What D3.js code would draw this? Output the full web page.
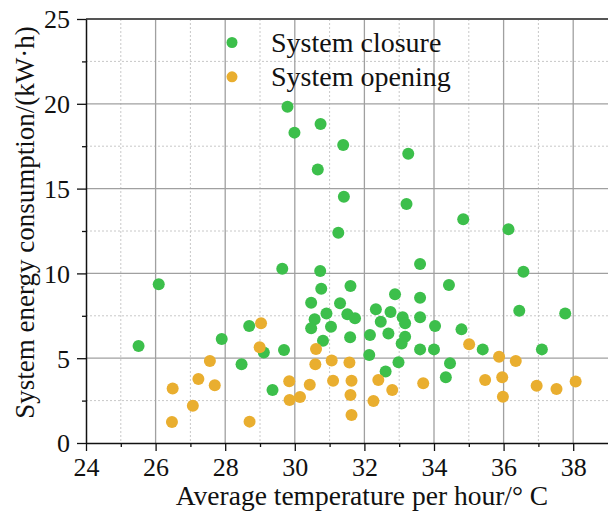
<!DOCTYPE html>
<meta charset="utf-8">
<title>System energy consumption vs temperature</title>
<style>
  body { margin: 0; background: white; }
  svg text { font-family: "Liberation Serif", "Times New Roman", serif; }
  .grid-major line { stroke: #a0a0a0; stroke-width: 1.3; }
  .grid-minor line { stroke: #c8c8c8; stroke-width: 1; stroke-dasharray: 2,2; }
</style>
<body>
<div id="my_dataviz"></div>
<script src="https://d3js.org/d3.v7.min.js"></script>
<script>

// data
var closureTemp = [25.51, 26.09, 27.90, 28.69, 28.47, 29.11, 29.64, 29.69, 29.36, 30.73,
  30.76, 30.47, 30.57, 30.47, 30.91, 31.04, 30.81, 31.25, 31.30, 29.79,
  29.99, 30.74, 30.66, 31.39, 31.41, 33.26, 33.21, 34.84, 36.14, 33.60,
  36.57, 31.60, 34.43, 32.88, 33.60, 31.51, 31.73, 32.33, 32.75, 32.47,
  33.10, 33.17, 33.60, 34.03, 34.79, 36.45, 37.77, 31.59, 32.16, 32.69,
  33.17, 33.07, 33.60, 34.00, 35.40, 37.10, 32.14, 32.98, 32.61, 34.46, 34.34];
var closureEnergy = [5.72, 9.36, 6.13, 6.90, 4.64, 5.33, 10.28, 5.48, 3.13, 10.14,
  9.10, 8.27, 7.29, 6.76, 7.64, 6.86, 6.03, 12.40, 8.24, 19.83,
  18.30, 18.81, 16.12, 17.57, 14.52, 17.06, 14.09, 13.19, 12.60, 10.55,
  10.10, 9.26, 9.32, 8.77, 8.57, 7.59, 7.35, 7.88, 7.72, 7.15,
  7.41, 7.06, 7.41, 6.90, 6.70, 7.80, 7.64, 6.23, 6.37, 6.46,
  6.27, 5.87, 5.52, 5.52, 5.52, 5.52, 5.19, 4.76, 4.21, 4.70, 3.87];

var openingTemp = [29.03, 28.99, 27.56, 27.23, 27.70, 26.49, 27.07, 26.47, 28.70, 29.84,
  29.85, 30.15, 30.43, 30.61, 30.59, 31.06, 31.10, 31.57, 31.63, 31.60,
  31.63, 32.40, 32.80, 32.26, 33.69, 35.01, 35.87, 36.35, 35.47, 35.96,
  35.98, 36.95, 37.52, 38.07];
var openingEnergy = [7.06, 5.64, 4.83, 3.77, 3.40, 3.22, 2.20, 1.24, 1.26, 3.64,
  2.54, 2.71, 3.44, 5.54, 4.64, 4.87, 3.67, 4.74, 3.67, 2.83,
  1.65, 3.71, 3.12, 2.48, 3.52, 5.82, 5.09, 4.83, 3.71, 3.87,
  2.73, 3.38, 3.18, 3.62];

var xTicks = [24, 26, 28, 30, 32, 34, 36, 38];
var yTicks = [0, 5, 10, 15, 20, 25];
var xMinor = [25, 27, 29, 31, 33, 35, 37];
var yMinor = [2.5, 7.5, 12.5, 17.5, 22.5];
var seriesNames = ["System closure", "System opening"];
var seriesColors = ["#3cbf4b", "#e9ae2f"];

var W = 608, H = 513;
var plotL = 86, plotR = 608, plotT = 19, plotB = 443;

var svg = d3.select("#my_dataviz")
  .append("svg")
    .attr("width", W)
    .attr("height", H);

var x = d3.scaleLinear().domain([24, 39]).range([plotL, plotR]);
var y = d3.scaleLinear().domain([0, 25]).range([plotB, plotT]);

// minor dotted grid
var gMinor = svg.append("g").attr("class", "grid-minor");
gMinor.selectAll(".vx").data(xMinor).enter().append("line")
  .attr("x1", d => x(d)).attr("x2", d => x(d))
  .attr("y1", plotT).attr("y2", plotB);
gMinor.selectAll(".hy").data(yMinor).enter().append("line")
  .attr("x1", plotL).attr("x2", plotR)
  .attr("y1", d => y(d)).attr("y2", d => y(d));

// major solid grid
var gMajor = svg.append("g").attr("class", "grid-major");
gMajor.selectAll(".vx").data(xTicks.slice(1)).enter().append("line")
  .attr("x1", d => x(d)).attr("x2", d => x(d))
  .attr("y1", plotT).attr("y2", plotB);
gMajor.selectAll(".hy").data(yTicks.slice(1, -1)).enter().append("line")
  .attr("x1", plotL).attr("x2", plotR)
  .attr("y1", d => y(d)).attr("y2", d => y(d));

// top border
svg.append("line")
  .attr("x1", plotL).attr("x2", plotR)
  .attr("y1", plotT).attr("y2", plotT)
  .attr("stroke", "#555").attr("stroke-width", 2);

// axes
var xAxis = svg.append("g")
  .attr("transform", "translate(0," + plotB + ")")
  .call(d3.axisBottom(x).tickValues(xTicks).tickSize(8).tickPadding(6).tickSizeOuter(0));
var xAxisMinor = svg.append("g")
  .attr("transform", "translate(0," + plotB + ")")
  .call(d3.axisBottom(x).tickValues(xMinor).tickSize(4).tickFormat("").tickSizeOuter(0));
var yAxis = svg.append("g")
  .attr("transform", "translate(" + plotL + ",0)")
  .call(d3.axisLeft(y).tickValues(yTicks).tickSize(9).tickPadding(7).tickSizeOuter(0));
var yAxisMinor = svg.append("g")
  .attr("transform", "translate(" + plotL + ",0)")
  .call(d3.axisLeft(y).tickValues(yMinor).tickSize(4).tickFormat("").tickSizeOuter(0));

[xAxis, xAxisMinor, yAxis, yAxisMinor].forEach(function(g) {
  g.attr("font-family", null).attr("font-size", null);
  g.select(".domain").attr("stroke", "#111").attr("stroke-width", 1.5);
  g.selectAll(".tick line").attr("stroke", "#111").attr("stroke-width", 1.3);
  g.selectAll("text")
    .attr("fill", "#111")
    .style("font-family", "'Liberation Serif', serif")
    .style("font-size", "26px");
});
xAxisMinor.select(".domain").remove();
yAxisMinor.select(".domain").remove();
xAxis.selectAll("text").attr("dy", "0.72em");
yAxis.selectAll("text").attr("dy", "0.34em");

// points
svg.append("g").selectAll("circle")
  .data(d3.range(closureTemp.length))
  .enter().append("circle")
    .attr("cx", i => x(closureTemp[i]))
    .attr("cy", i => y(closureEnergy[i]))
    .attr("r", 6)
    .attr("fill", seriesColors[0]);

svg.append("g").selectAll("circle")
  .data(d3.range(openingTemp.length))
  .enter().append("circle")
    .attr("cx", i => x(openingTemp[i]))
    .attr("cy", i => y(openingEnergy[i]))
    .attr("r", 6)
    .attr("fill", seriesColors[1]);

// legend
var legend = svg.append("g").selectAll("g")
  .data(seriesNames)
  .enter().append("g")
    .attr("transform", (d, i) => "translate(232," + (42.5 + i * 34.3) + ")");
legend.append("circle")
  .attr("r", 5.5)
  .attr("fill", (d, i) => seriesColors[i]);
legend.append("text")
  .attr("x", 39)
  .attr("y", 9.5)
  .attr("fill", "#111")
  .style("font-size", "28px")
  .text(d => d);

// axis titles
svg.append("text")
  .attr("x", 362)
  .attr("y", 505)
  .attr("text-anchor", "middle")
  .attr("fill", "#111")
  .style("font-size", "27.5px")
  .text("Average temperature per hour/\u00b0 C");

svg.append("text")
  .attr("transform", "translate(33.5,222.5) rotate(-90)")
  .attr("text-anchor", "middle")
  .attr("fill", "#111")
  .style("font-size", "27px")
  .text("System energy consumption/(kW\u00b7h)");

</script>
</body>
